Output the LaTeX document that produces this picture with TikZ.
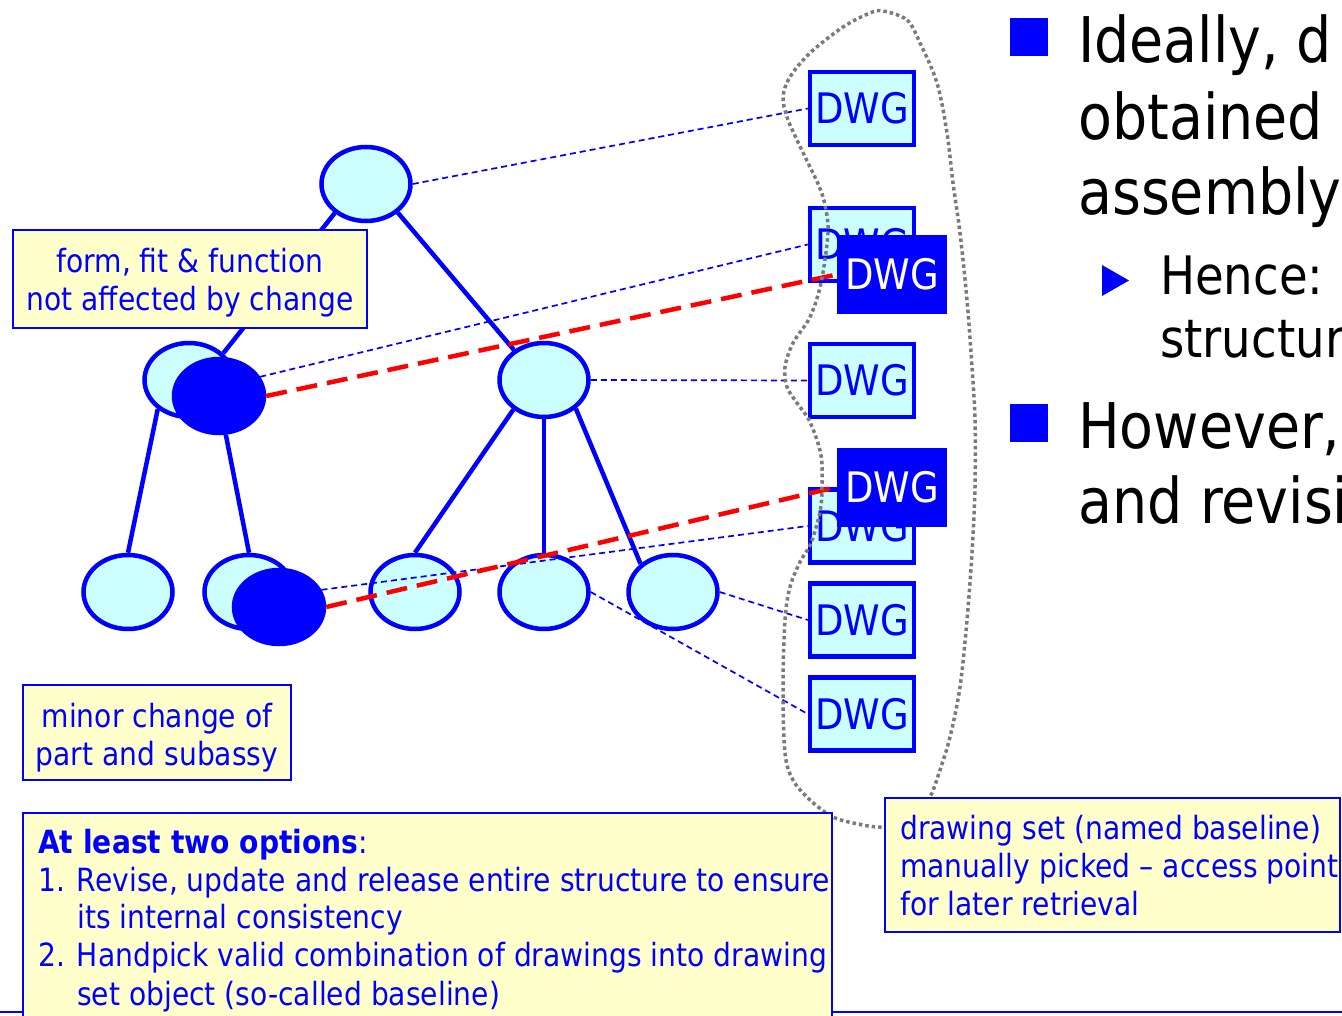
\documentclass[tikz,border=0pt]{standalone}
\usepackage{fontspec}
\setmainfont[FakeStretch=0.88]{DejaVu Sans}
\usetikzlibrary{shapes.geometric}
\definecolor{cy}{HTML}{CCFFFF}
\definecolor{yl}{HTML}{FFFFCC}
\definecolor{bl}{HTML}{0000FF}
\definecolor{gr}{HTML}{7A7A7A}
\begin{document}
\begin{tikzpicture}[x=1pt,y=-1pt,
  part/.style={ellipse, draw=bl, fill=cy, line width=4.5pt, minimum width=89pt, minimum height=74pt, inner sep=0pt},
  chg/.style={ellipse, draw=bl, fill=bl, line width=4.5pt, minimum width=90pt, minimum height=74pt, inner sep=0pt},
  dwg/.style={rectangle, draw=bl, fill=cy, line width=4.5pt, minimum width=104pt, minimum height=73pt, inner sep=0pt, text=bl, font=\fontsize{42}{42}\selectfont},
  dwgnew/.style={rectangle, fill=bl, minimum width=110pt, minimum height=79pt, inner sep=0pt, text=white, font=\fontsize{42}{42}\selectfont},
  tree/.style={draw=bl, line width=4.5pt},
  link/.style={draw=bl, line width=1.7pt, dash pattern=on 6pt off 4pt},
  redlink/.style={draw=red, line width=4.5pt, dash pattern=on 21pt off 10pt},
  note/.style={rectangle, draw=bl, fill=yl, line width=2pt, inner sep=0pt},
  notetext/.style={text=bl, font=\fontsize{32}{38}\selectfont, inner sep=0pt},
  big/.style={font=\fontsize{63}{75}\selectfont, inner sep=0pt, anchor=base west},
  mid/.style={font=\fontsize{53}{63}\selectfont, inner sep=0pt, anchor=base west},
  loop/.style={draw=gr, line width=3.5pt, dash pattern=on 3.5pt off 3pt}
]
\useasboundingbox (0,0) rectangle (1342,1016);

% slide rule at bottom
\draw[bl, line width=2.5pt] (0,1012) -- (1342,1012);

% tree nodes
\node[part] (top) at (366,184) {};
\node[part] (ml) at (189,380) {};
\node[chg] (dml) at (219,396) {};
\node[part] (mr) at (544,380) {};
\node[part] (b1) at (128,592) {};
\node[part] (b2) at (249,592) {};
\node[chg] (db2) at (279,607) {};
\node[part] (b3) at (415,592) {};
\node[part] (b4) at (544,592) {};
\node[part] (b5) at (673,592) {};

% tree edges
\draw[tree] (top.223) -- (ml.38);
\draw[tree] (top.318) -- (mr.135);
\draw[tree] (ml.223) -- (b1.north);
\draw[tree] (dml.-80) -- (b2.north);
\draw[tree] (mr.224) -- (b3.north);
\draw[tree] (mr.south) -- (b4.north);
\draw[tree] (mr.-42) -- (b5.139);

% drawings
\node[dwg] (dwg1) at (862,108.5) {DWG};
\node[dwg] (dwg2) at (862,244.5) {DWG};
\node[dwg] (dwg3) at (862,380.5) {DWG};
\node[dwg] (dwg4) at (862,526) {DWG};
\node[dwg] (dwg5) at (862,620) {DWG};
\node[dwg] (dwg6) at (862,714) {DWG};

% links part -> drawing
\draw[link] (top.east) -- (dwg1.west);
\draw[link] (dml.25) -- (dwg2.west);
\draw[link] (mr.east) -- (dwg3.west);
\draw[link] (db2.22) -- (dwg4.west);
\draw[link] (b5.east) -- (dwg5.west);
\draw[link] (b4.east) -- (dwg6.west);

% new revisions
\node[dwgnew] (dwg2n) at (892,274.5) {DWG};
\node[dwgnew] (dwg4n) at (892,487) {DWG};
\draw[redlink] (dml.east) -- (dwg2n.west);
\draw[redlink] (db2.east) -- (dwg4n.west);

% drawing set loop
\draw[loop] plot[smooth cycle, tension=0.55] coordinates {
 (883,11) (907,20) (920,43) (937,83) (947,133) (953,183) (960,233) (967,300)
 (972,367) (975,420) (975,487) (972,553) (967,620) (960,687) (950,737) (940,770)
 (930,797) (915,815) (898,825) (878,827) (858,824) (833,817) (810,800) (793,780)
 (785,753) (783,687) (785,620) (790,587) (800,562) (811,543) (820,512) (822,487)
 (821,455) (810,422) (797,403) (787,387) (785,367) (793,343) (810,317) (821,283)
 (828,233) (825,205) (819,186) (810,167) (797,140) (787,117) (783,97) (790,77)
 (810,53) (843,27) (870,13)};

% notes
\node[note, minimum width=354pt, minimum height=98pt] (n1) at (190,279) {};
\node[notetext, anchor=base] (n1a) at (190,273) {form, fit \& function};
\node[notetext, anchor=base] (n1b) at (190,311) {not affected by change};

\node[note, minimum width=268pt, minimum height=95pt] (n2) at (157,732.5) {};
\node[notetext, anchor=base] (n2a) at (157,727) {minor change of};
\node[notetext, anchor=base] (n2b) at (157,765) {part and subassy};

\node[note, minimum width=809pt, minimum height=240pt] (n3) at (427.5,933) {};
\node[notetext, anchor=base west] (n3a) at (38,853) {\textbf{At least two options}:};
\node[notetext, anchor=base west] (n3b) at (38,891.7) {1. Revise, update and release entire structure to ensure};
\node[notetext, anchor=base west] (n3c) at (77,928.5) {its internal consistency};
\node[notetext, anchor=base west] (n3d) at (38,966.7) {2. Handpick valid combination of drawings into drawing};
\node[notetext, anchor=base west] (n3e) at (77,1005) {set object (so-called baseline)};

\node[note, minimum width=455pt, minimum height=134pt] (n4) at (1112.5,865) {};
\node[notetext, anchor=base west] (n4a) at (900,839) {drawing set (named baseline)};
\node[notetext, anchor=base west] (n4b) at (900,877) {manually picked – access point};
\node[notetext, anchor=base west] (n4c) at (900,915) {for later retrieval};

% slide text
\fill[bl] (1010,18) rectangle (1048,56);
\node[big] (r1) at (1078,63) {Ideally, d};
\node[big] (r2) at (1078,140) {obtained};
\node[big] (r3) at (1078,215) {assembly};
\fill[bl] (1102,265) -- (1129,280.5) -- (1102,296) -- cycle;
\node[mid] (r4) at (1160,295) {Hence:};
\node[mid] (r5) at (1160,358) {structur};
\fill[bl] (1010,404) rectangle (1048,442);
\node[big] (r6) at (1078,448) {However,};
\node[big] (r7) at (1078,523) {and revisi};
\end{tikzpicture}
\end{document}
